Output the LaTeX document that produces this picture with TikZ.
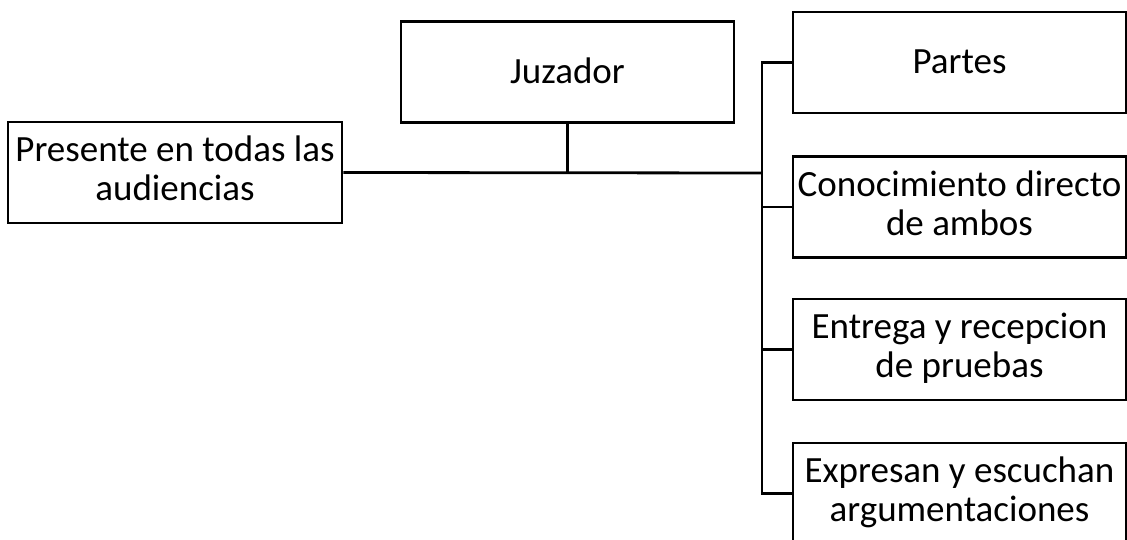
\documentclass[tikz,border=0pt]{standalone}
\usepackage{fontspec}
\setmainfont{Carlito}

\begin{document}
\begin{tikzpicture}[x=1pt,y=-1pt,line width=2.8pt,
	caja/.style={draw,rectangle,minimum width=333pt,minimum height=101pt,
		inner sep=0pt,align=center,font=\fontsize{37}{39}\selectfont,
		execute at begin node={\rule{0pt}{31pt}},
		execute at end node={\rule[-8pt]{0pt}{8pt}}}]
	\def\bx{959.5} %centre of right column
	\useasboundingbox (0,0) rectangle (1127,540);
	\clip (0,0) rectangle (1127,540);
	
	%BOXES
	\node[caja] (juzador) at (567.5,72) {Juzador};
	\node[caja,minimum width=334pt] (presente) at (175,172.5) {Presente en todas las\\audiencias};
	%
	\node[caja] (partes)    at (\bx,62.5)  {Partes};
	\node[caja] (conoc)     at (\bx,207)   {Conocimiento directo\\de ambos};
	\node[caja] (entrega)   at (\bx,349.5) {Entrega y recepcion\\de pruebas};
	\node[caja] (expresan)  at (\bx,493.5) {Expresan y escuchan\\argumentaciones};
	
	%CONNECTORS
	\coordinate (bus) at (762,173);
	\draw (presente.east) -- (bus);
	\draw (juzador.south) -- (juzador.south |- bus);
	\draw (bus) |- (partes.west);
	\draw (bus) |- (conoc.west);
	\draw (bus) |- (entrega.west);
	\draw (bus) |- (expresan.west);
\end{tikzpicture}
\end{document}
